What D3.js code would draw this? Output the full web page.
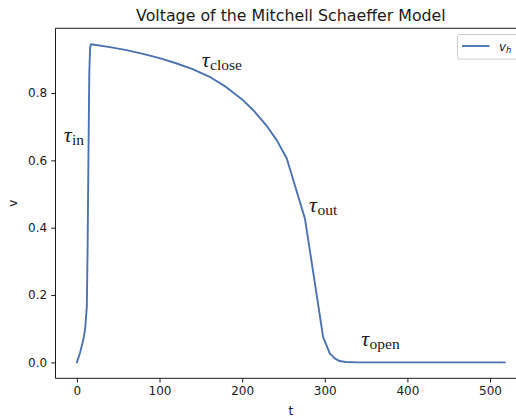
<!DOCTYPE html>
<html>
<head>
<meta charset="utf-8">
<script src="https://cdn.jsdelivr.net/npm/d3@7"></script>
<style>
  html, body { margin: 0; padding: 0; background: #fff; }
  svg { display: block; }
  text { font-family: "DejaVu Sans", sans-serif; fill: #1a1a1a; }
  .tau { font-family: "Liberation Serif", "DejaVu Serif", serif; }
</style>
</head>
<body>
<svg id="chart" width="516" height="418"></svg>
<script>
// Membrane voltage v_h of the Mitchell–Schaeffer model over time t
const time = [0, 4, 8, 10, 12, 13, 14, 15, 16, 17, 40, 60, 80, 100, 120, 140, 160, 180, 200, 215, 230, 242, 254, 276, 287, 298, 306, 312, 318, 325, 340, 400, 518];
const voltage = [0, 0.03, 0.07, 0.1, 0.165, 0.35, 0.62, 0.86, 0.935, 0.945, 0.9365, 0.9275, 0.9165, 0.9035, 0.8885, 0.871, 0.849, 0.819, 0.781, 0.745, 0.7015, 0.6595, 0.6055, 0.427, 0.252, 0.075, 0.027, 0.012, 0.004, 0.001, 0, 0, 0];

const xTicks = [0, 100, 200, 300, 400, 500];
const yTicks = [0, 0.2, 0.4, 0.6, 0.8];

// Phase annotations: [t, v, subscript]
const phaseLabels = [
  [-16, 0.655, "in"],
  [151, 0.877, "close"],
  [281, 0.447, "out"],
  [344, 0.05, "open"]
];

const titleText = "Voltage of the Mitchell Schaeffer Model";
const seriesName = "h";
const lineColor = "#4c72b0";

const svg = d3.select("#chart");
const plot = { left: 55.5, right: 526.3, top: 28.3, bottom: 378.3 };

// 5% padding around the data range on each axis
const tExt = d3.extent(time), vExt = d3.extent(voltage);
const tPad = (tExt[1] - tExt[0]) * 0.05, vPad = (vExt[1] - vExt[0]) * 0.05;
const x = d3.scaleLinear().domain([tExt[0] - tPad, tExt[1] + tPad]).range([plot.left, plot.right]);
const y = d3.scaleLinear().domain([vExt[0] - vPad, vExt[1] + vPad]).range([plot.bottom, plot.top]);

// Axes
const xAxis = d3.axisBottom(x).tickValues(xTicks).tickFormat(d3.format("d")).tickSize(4.2).tickPadding(4.2);
const yAxis = d3.axisLeft(y).tickValues(yTicks).tickFormat(d3.format(".1f")).tickSize(4.2).tickPadding(4.2);

const gx = svg.append("g").attr("transform", `translate(0,${plot.bottom})`).call(xAxis);
const gy = svg.append("g").attr("transform", `translate(${plot.left},0)`).call(yAxis);
[gx, gy].forEach(g => {
  g.select(".domain").remove();
  g.selectAll(".tick line").attr("stroke", "#1a1a1a").attr("stroke-width", 1);
  g.selectAll(".tick text").attr("font-size", 12).attr("fill", "#1a1a1a")
    .attr("font-family", "DejaVu Sans, sans-serif");
});

// Spines (left, top, bottom)
svg.append("path")
  .attr("d", `M${plot.right},${plot.top}H${plot.left}V${plot.bottom}H${plot.right}`)
  .attr("fill", "none").attr("stroke", "#1a1a1a").attr("stroke-width", 1);

// Clip the curve to the plotting area
svg.append("clipPath").attr("id", "clip").append("rect")
  .attr("x", plot.left).attr("y", plot.top)
  .attr("width", plot.right - plot.left).attr("height", plot.bottom - plot.top);

const line = d3.line().x((d, i) => x(time[i])).y(d => y(d));
svg.append("path")
  .datum(voltage)
  .attr("clip-path", "url(#clip)")
  .attr("d", line)
  .attr("fill", "none")
  .attr("stroke", lineColor)
  .attr("stroke-width", 1.9)
  .attr("stroke-linejoin", "round")
  .attr("stroke-linecap", "round");

// Phase labels τ_in, τ_close, τ_out, τ_open
phaseLabels.forEach(([t, v, sub]) => {
  const txt = svg.append("text").attr("class", "tau")
    .attr("x", x(t)).attr("y", y(v)).attr("font-size", 22);
  txt.append("tspan").attr("font-style", "italic").text("τ");
  txt.append("tspan").attr("font-size", 15.5).attr("dx", 0.5).attr("dy", 3).text(sub);
});

// Title
svg.append("text")
  .attr("x", (plot.left + plot.right) / 2).attr("y", 20.5)
  .attr("text-anchor", "middle").attr("font-size", 15.8)
  .text(titleText);

// Axis labels
svg.append("text")
  .attr("x", (plot.left + plot.right) / 2).attr("y", 415)
  .attr("text-anchor", "middle").attr("font-size", 12).text("t");
svg.append("text")
  .attr("transform", `translate(17,${(plot.top + plot.bottom) / 2}) rotate(-90)`)
  .attr("text-anchor", "middle").attr("font-size", 12).text("v");

// Legend
const lg = svg.append("g");
lg.append("rect")
  .attr("x", 457.5).attr("y", 34.5).attr("width", 63).attr("height", 24.5)
  .attr("rx", 2.5).attr("fill", "#fff").attr("fill-opacity", 0.8)
  .attr("stroke", "#cccccc").attr("stroke-width", 1);
lg.append("line")
  .attr("x1", 462).attr("x2", 489.5).attr("y1", 46).attr("y2", 46)
  .attr("stroke", lineColor).attr("stroke-width", 1.9);
const lt = lg.append("text").attr("x", 499).attr("y", 50.5).attr("font-size", 12);
lt.append("tspan").attr("font-style", "italic").text("v");
lt.append("tspan").attr("font-style", "italic").attr("font-size", 8.5).attr("dy", 2.5).text(seriesName);
</script>
</body>
</html>
